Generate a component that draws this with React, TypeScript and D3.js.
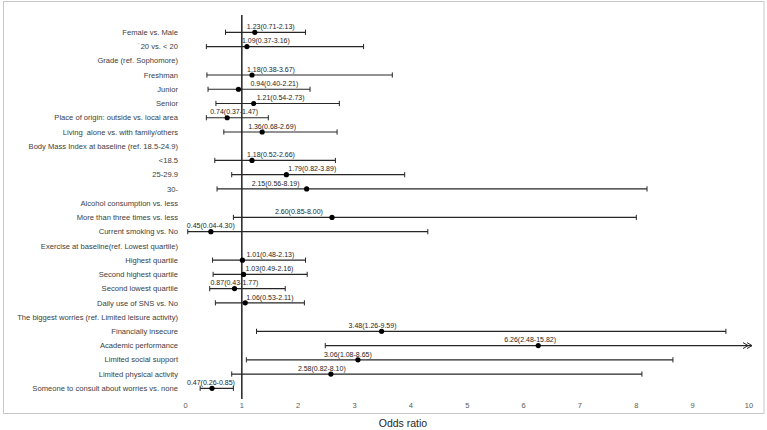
import React from 'react';
import * as d3 from 'd3';

// ---------- data ----------
const rowLabels: string[] = [
  'Female vs. Male',
  '\u02D920 vs. < 20',
  'Grade (ref. Sophomore)',
  'Freshman',
  'Junior',
  'Senior',
  'Place of origin: outside vs. local area',
  'Living  alone vs. with family/others',
  'Body Mass Index at baseline (ref. 18.5-24.9)',
  '<18.5',
  '25-29.9',
  '30-',
  'Alcohol consumption vs. less',
  'More than three times vs. less',
  'Current smoking vs. No',
  'Exercise at baseline(ref. Lowest quartile)',
  'Highest quartile',
  'Second highest quartile',
  'Second lowest quartile',
  'Daily use of SNS vs. No',
  'The biggest worries (ref. Limited leisure activity)',
  'Financially insecure',
  'Academic performance',
  'Limited social support',
  'Limited physical activity',
  'Someone to consult about worries vs. none',
];

const oddsRatios: (number | null)[] = [
  1.23, 1.09, null, 1.18, 0.94, 1.21, 0.74, 1.36, null, 1.18, 1.79, 2.15, null,
  2.60, 0.45, null, 1.01, 1.03, 0.87, 1.06, null, 3.48, 6.26, 3.06, 2.58, 0.47,
];
const lowerCI: (number | null)[] = [
  0.71, 0.37, null, 0.38, 0.40, 0.54, 0.37, 0.68, null, 0.52, 0.82, 0.56, null,
  0.85, 0.04, null, 0.48, 0.49, 0.43, 0.53, null, 1.26, 2.48, 1.08, 0.82, 0.26,
];
const upperCI: (number | null)[] = [
  2.13, 3.16, null, 3.67, 2.21, 2.73, 1.47, 2.69, null, 2.66, 3.89, 8.19, null,
  8.00, 4.30, null, 2.13, 2.16, 1.77, 2.11, null, 9.59, 15.82, 8.65, 8.10, 0.85,
];

const xTicks: number[] = [0, 1, 2, 3, 4, 5, 6, 7, 8, 9, 10];
const xAxisTitle = 'Odds ratio';

// ---------- layout (pixel nudges of the value labels, as placed in the original) ----------
const labelShift: number[] = [
  -8, -5, 0, -5, 12, 3, -17, -14, 0, -5, 2, -55, 0,
  -57, -24, 0, 4, 2, -24, 1, 0, -33, -34, -34, -33, -25,
];

const W = 767;
const H = 430;
const FONT = '"Liberation Sans", Arial, sans-serif';

export default function App() {
  const x = d3.scaleLinear().domain([0, 10]).range([185.5, 749]);
  const y = d3
    .scalePoint<number>()
    .domain(d3.range(rowLabels.length))
    .range([32.3, 388.3]);
  const xMax = x.domain()[1];
  const fmt = d3.format('.2f');
  const lineColor = '#262626';

  return (
    <svg
      width={W}
      height={H}
      style={{ position: 'absolute', left: 0, top: 0, background: '#fff' }}
    >
      <rect x={3.5} y={1.5} width={760.5} height={412} fill="#fff" stroke="#c8c8c8" strokeWidth={1} />

      {/* reference line at OR = 1 */}
      <line x1={x(1)} x2={x(1)} y1={15} y2={399} stroke="#000" strokeWidth={1.3} />

      {/* row labels */}
      {rowLabels.map((lab, i) => (
        <text
          key={'l' + i}
          x={178}
          y={y(i)!}
          dy="0.35em"
          textAnchor="end"
          fontFamily={FONT}
          fontSize={7.6}
          fill="#404040"
          style={{ whiteSpace: 'pre' }}
        >
          {lab}
        </text>
      ))}

      {/* CIs, points, value labels */}
      {rowLabels.map((_, i) => {
        const or = oddsRatios[i];
        const lo = lowerCI[i];
        const hi = upperCI[i];
        if (or == null || lo == null || hi == null) return null;
        const yy = y(i)!;
        const clipped = hi > xMax;
        const xe = clipped ? x(xMax) + 3 : x(hi);
        const xl = x(lo);
        return (
          <g key={'r' + i}>
            <line x1={xl} x2={xe} y1={yy} y2={yy} stroke={lineColor} strokeWidth={1.2} />
            <line x1={xl} x2={xl} y1={yy - 2.6} y2={yy + 2.6} stroke={lineColor} strokeWidth={1} />
            {clipped ? (
              <g fill="none" stroke={lineColor} strokeWidth={1}>
                <path d={`M${xe - 5},${yy - 3} L${xe},${yy} L${xe - 5},${yy + 3}`} />
                <path d={`M${xe - 9},${yy - 3} L${xe - 4},${yy} L${xe - 9},${yy + 3}`} />
              </g>
            ) : (
              <line x1={xe} x2={xe} y1={yy - 2.6} y2={yy + 2.6} stroke={lineColor} strokeWidth={1} />
            )}
            <circle cx={x(or)} cy={yy} r={2.6} fill="#000" />
            <text
              x={x(or) + labelShift[i]}
              y={yy - 3.3}
              fontFamily={FONT}
              fontSize={7}
              fill="#262626"
            >
              {`${fmt(or)}(${fmt(lo)}-${fmt(hi)})`}
            </text>
          </g>
        );
      })}

      {/* x tick labels */}
      {xTicks.map((t) => (
        <text
          key={'t' + t}
          x={x(t)}
          y={407.5}
          textAnchor="middle"
          fontFamily={FONT}
          fontSize={7.5}
          fill="#595959"
        >
          {t}
        </text>
      ))}

      <text
        x={403}
        y={427}
        textAnchor="middle"
        fontFamily={FONT}
        fontSize={10.5}
        fill="#262626"
      >
        {xAxisTitle}
      </text>
    </svg>
  );
}
